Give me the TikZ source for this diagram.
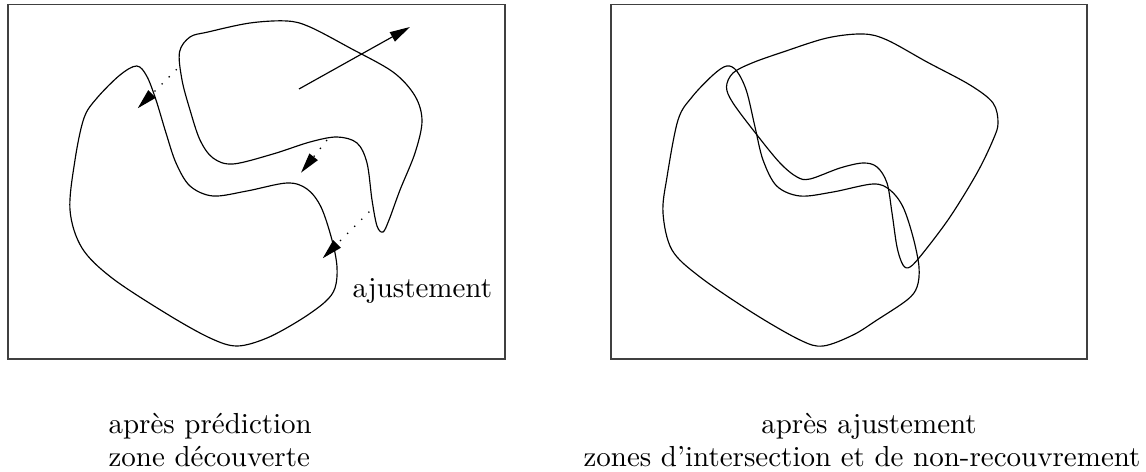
\documentclass[tikz,border=0pt]{standalone}
\usetikzlibrary{arrows.meta}
\begin{document}
\begin{tikzpicture}[x=0.345pt,y=-0.345pt,
  frame/.style={draw=black!75,line width=0.55pt},
  blob/.style={draw=black,line width=0.4pt},
  motion/.style={draw=black,line width=0.4pt,-{Triangle[length=7pt,width=3.6pt]}},
  adjust/.style={draw=black,line width=0.45pt,dash pattern=on 0.45pt off 3pt,-{Triangle[length=7pt,width=3.6pt]}},
  caption/.style={inner sep=0pt,font=\normalsize}]
\useasboundingbox (0,0) rectangle (1146,472);
% frames
\draw[frame] (8,4.5) rectangle (505,359);
\draw[frame] (611,4.5) rectangle (1087,359);
% left: lower shape
\draw[blob] plot[smooth cycle,tension=0.55] coordinates {
 (136.7,66) (146.7,76) (156,100) (166,133) (176,163) (190,186) (213,196)
 (247,191) (287,183) (307,189) (321,207) (332,240) (337,267) (335,288)
 (325,302) (300,320) (267,338) (237,346) (210,338) (167,314) (112,278)
 (82,248) (70,210) (75,160) (84,118) (97,98) (120,75)};
% left: upper shape
\draw[blob] plot[smooth cycle,tension=0.55] coordinates {
 (179.5,52) (190,37) (208,32) (250,23) (287,21) (310,27) (350,48) (393,72)
 (415,96) (422,121) (415,153) (400,190) (389,220) (383,232) (377,226)
 (372,200) (367,163) (357,143) (337,137) (310,142) (273,154) (233,164)
 (213,158) (200,140) (190,110) (182,80)};
% left: arrows
\coordinate (m0) at (299,89);
\coordinate (m1) at (410,27);
\draw[motion] (m0) -- (m1);
\coordinate (a0) at (176.7,69.3);
\coordinate (a1) at (137.7,108.3);
\draw[adjust] (a0) -- (a1);
\coordinate (b0) at (327,140);
\coordinate (b1) at (301,172.7);
\draw[adjust] (b0) -- (b1);
\coordinate (c0) at (369.3,211.7);
\coordinate (c1) at (322.7,258.3);
\draw[adjust] (c0) -- (c1);
\node[caption,anchor=base west] (adj) at (352,297) {ajustement};
% right: lower shape
\draw[blob] plot[smooth cycle,tension=0.55] coordinates {
 (726.7,66) (736.7,71) (746.5,91) (755,127) (763,160) (776.7,186) (800,196)
 (833,192) (873,184) (890,190) (903,207) (913,237) (919,267) (917,287)
 (907,300) (877,320) (853,335) (823,346) (800,340) (753,313) (700,277)
 (672,250) (663,213) (667,177) (678,120) (692,97) (713,75)};
% right: upper shape
\draw[blob] plot[smooth cycle,tension=0.55] coordinates {
 (726.5,87) (733,73) (752,63) (783,52) (827,38) (863,34) (887,40) (927,62)
 (970,85) (993,103) (998,123) (993,140) (977,173) (950,217) (923,253)
 (910,267) (903,265) (897,247) (892,213) (887,183) (877,167) (863,163)
 (840,168) (810,179) (797,177) (780,163) (757,135) (733,103)};
% captions
\node[caption,anchor=base west] (l1) at (108,433) {après prédiction};
\node[caption,anchor=base west] (l2) at (108,466) {zone découverte};
\node[caption,anchor=base] (r1) at (869,433) {après ajustement};
\node[caption,anchor=base] (r2) at (862,466) {zones d'intersection et de non-recouvrement};
\end{tikzpicture}
\end{document}
